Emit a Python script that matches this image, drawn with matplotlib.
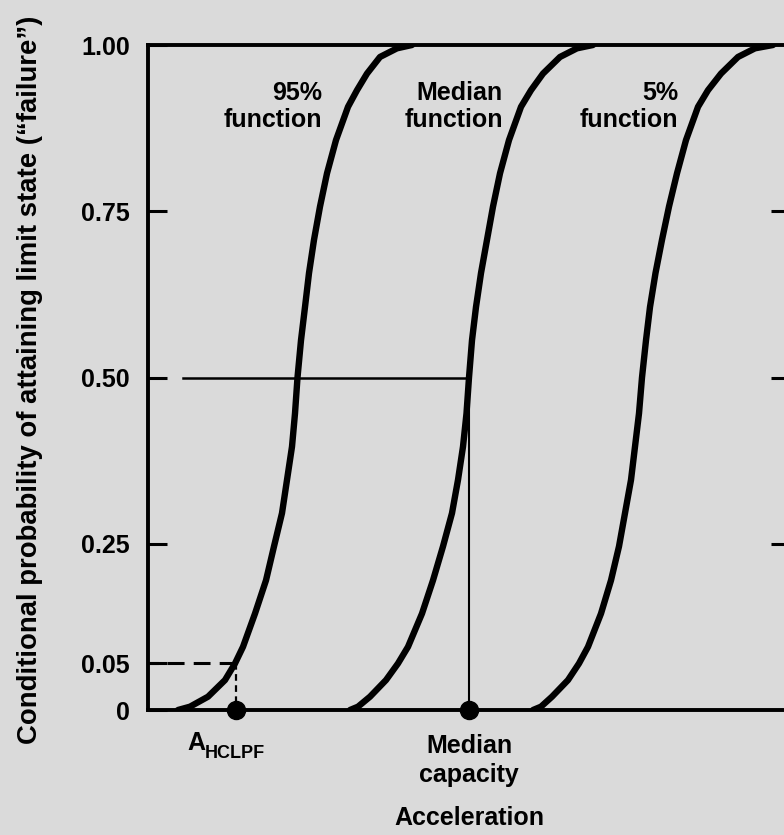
import matplotlib
matplotlib.use("Agg")
import matplotlib.pyplot as plt

plt.rcParams['font.family'] = ['Liberation Sans', 'DejaVu Sans']
plt.rcParams['font.weight'] = 'bold'

# probability levels (schematic figure, same levels for all three)
prob = [0, 0.005, 0.02, 0.045, 0.07, 0.095, 0.145, 0.195, 0.246, 0.296,
        0.346, 0.396, 0.446, 0.5, 0.556, 0.606, 0.657, 0.707, 0.757,
        0.807, 0.857, 0.907, 0.932, 0.957, 0.982, 0.995, 1.0]

# acceleration, arbitrary units (frame runs 0..642)
acc_95 = [30, 42, 60, 77, 87, 95, 107, 118, 126, 134,
          139, 144, 147, 149.5, 153, 157, 161, 166, 172,
          179, 188, 200, 209, 219, 232, 249, 264]
acc_med = [202, 210, 222, 238, 250, 260, 274, 285, 295, 304,
           310, 315, 318.5, 321, 324, 328, 333, 339, 345,
           352, 361, 373, 383, 395, 412, 429, 445]
acc_05 = [385, 393, 404, 420, 431, 440, 453, 463, 471, 477,
          483, 487, 491, 494, 498, 502, 507.5, 514, 521,
          529, 538, 550, 560, 573, 590, 607, 625]

median_capacity = 321
hclpf = 88
hclpf_level = 0.07   # where the "0.05" level sits in the drawing
half_line_start = 35

ytick_pos = [0, hclpf_level, 0.25, 0.5, 0.75, 1.0]
ytick_labels = ['0', '0.05', '0.25', '0.50', '0.75', '1.00']
right_ticks = [0.25, 0.5, 0.75]

bg = '#dadada'

fig = plt.figure(figsize=(7.84, 8.35), dpi=100, facecolor=bg)
ax = fig.add_axes([148/784, 125/835, 642/784, 665/835])
ax.set_facecolor(bg)
ax.set_xlim(0, 642)
ax.set_ylim(0, 1)

for acc in (acc_95, acc_med, acc_05):
    ax.plot(acc, prob, color='black', lw=4.6, solid_joinstyle='round',
            solid_capstyle='round', zorder=3)

# median capacity construction
ax.plot([half_line_start, median_capacity], [0.5, 0.5], color='black', lw=1.8)
ax.plot([median_capacity, median_capacity], [0, 0.5], color='black', lw=1.5)

# HCLPF construction (drawn from the curve outwards so the dash meets it)
ax.plot([hclpf, 0], [hclpf_level, hclpf_level], color='black', lw=2.2,
        dashes=(5.5, 3))
ax.plot([hclpf, hclpf], [hclpf_level, 0], color='black', lw=1.6,
        dashes=(3, 2))

ax.plot([hclpf, median_capacity], [0, 0], 'o', color='black', ms=13,
        clip_on=False, zorder=5)

for sp in ax.spines.values():
    sp.set_linewidth(2.8)

ax.set_xticks([])
ax.set_yticks(ytick_pos)
ax.set_yticklabels(ytick_labels, fontsize=18, fontweight='bold')
ax.tick_params(axis='y', direction='in', length=14, width=2.2, pad=13)

ax2 = ax.twinx()
ax2.set_ylim(0, 1)
ax2.set_yticks(right_ticks)
ax2.set_yticklabels([])
ax2.tick_params(axis='y', direction='in', length=14, width=2.2)
for sp in ax2.spines.values():
    sp.set_visible(False)

# curve labels
ax.text(174, 0.907, '95%\nfunction', ha='right', va='center',
        multialignment='right', fontsize=18, fontweight='bold', linespacing=1.15)
ax.text(355, 0.907, 'Median\nfunction', ha='right', va='center',
        multialignment='right', fontsize=18, fontweight='bold', linespacing=1.15)
ax.text(530, 0.907, '5%\nfunction', ha='right', va='center',
        multialignment='right', fontsize=18, fontweight='bold', linespacing=1.15)

# x annotations
ax.text(57, -0.05, 'A', ha='right', va='center', fontsize=18,
        fontweight='bold', clip_on=False)
ax.text(57, -0.066, 'HCLPF', ha='left', va='center', fontsize=13,
        fontweight='bold', clip_on=False)
ax.text(median_capacity, -0.076, 'Median\ncapacity', ha='center', va='center',
        fontsize=18, fontweight='bold', linespacing=1.3, clip_on=False)
ax.text(median_capacity, -0.163, 'Acceleration', ha='center', va='center',
        fontsize=18, fontweight='bold', clip_on=False)

fig.text(30/784, 1 - 380/835,
         'Conditional probability of attaining limit state (\u201cfailure\u201d)',
         rotation=90, ha='center', va='center', fontsize=19.8, fontweight='bold')

fig.savefig('out.png', dpi=100, facecolor=bg)
